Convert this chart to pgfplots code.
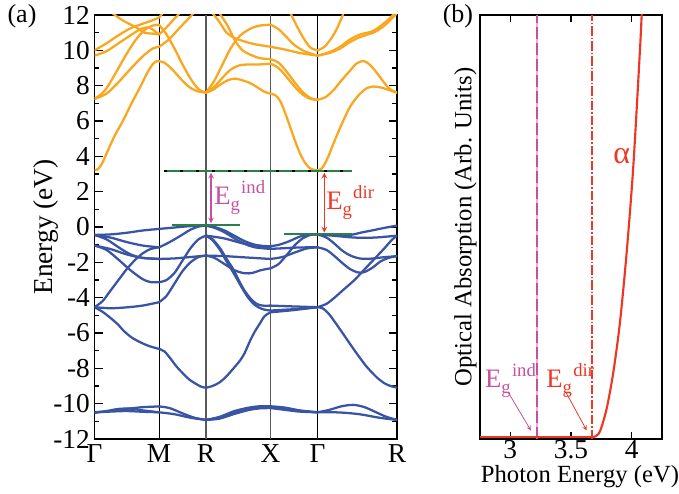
\documentclass[border=0pt]{standalone}
\usepackage{pgfplots}
\pgfplotsset{compat=1.18}
\usepackage{fontspec}
\setmainfont{Liberation Serif}
\definecolor{cband}{RGB}{250,166,30}
\definecolor{vband}{RGB}{58,84,164}
\definecolor{gline}{RGB}{40,130,70}
\definecolor{mag}{RGB}{200,80,160}
\definecolor{rd}{RGB}{238,55,35}
\pgfplotsset{
  cb/.style={cband, line width=1.7pt, smooth, tension=0.5, line join=round, line cap=round},
  vb/.style={vband, line width=1.7pt, smooth, tension=0.5, line join=round, line cap=round},
}
\tikzset{egl/.style={font=\fontsize{20}{20}\selectfont, inner sep=0pt}}
\newcommand{\Eg}[1]{E{\fontsize{14}{14}\selectfont\raisebox{-4.5pt}{g}\hspace{1pt}\raisebox{8pt}{#1}}}
\begin{document}
\begin{tikzpicture}
\useasboundingbox (-70.9pt,-41.25pt) rectangle (438.4pt,329.25pt);
\begin{axis}[
  at={(0pt,0pt)}, anchor=south west,
  scale only axis, width=226.9pt, height=318pt,
  xmin=0, xmax=302.5, ymin=-12, ymax=12,
  xtick={0,64.5,111.5,176,223,302.5},
  xticklabels={Γ,M,R,X,Γ,R},
  xtick style={draw=none},
  ytick={-12,-10,...,12}, minor y tick num=1,
  tick align=inside, ytick pos=both,
  major tick length=6pt, minor tick length=3.5pt,
  axis line style={line width=0.9pt},
  every tick/.style={black, line width=0.9pt},
  /pgf/number format/assume math mode=true,
  font=\fontsize{20.5}{23}\selectfont,
  xticklabel style={yshift=-1pt},
  ylabel={Energy (eV)},
  ylabel style={yshift=-11pt},
  clip=true,
]
% high-symmetry lines
\addplot[black, line width=0.6pt] coordinates {(64.5,-12) (64.5,12)};
\addplot[black!65, line width=0.9pt] coordinates {(111.5,-12) (111.5,12)};
\addplot[black!65, line width=0.9pt] coordinates {(176,-12) (176,12)};
\addplot[black, line width=0.6pt] coordinates {(223,-12) (223,12)};
% conduction bands, G-M
\addplot[cb] coordinates {(0,3.2) (4,3.3) (8,3.65) (12,4.15) (20,5.15) (28.8,6.05) (37,7.0) (45.5,7.9) (52,8.65) (58,9.2) (62,9.38) (64.5,9.38)};
\addplot[cb] coordinates {(0,7.25) (12,7.55) (24,8.2) (36,8.95) (48,9.65) (58,10.1) (64.5,10.2)};
\addplot[cb] coordinates {(0,7.25) (10,7.7) (20,8.6) (30,9.6) (40,10.5) (50,11.15) (58,11.4) (64.5,11.45)};
\addplot[cb] coordinates {(0,9.7) (12,9.95) (24,10.4) (36,10.85) (46,11.2) (54,11.3) (60,11.1) (64.5,10.9)};
\addplot[cb] coordinates {(0,10.0) (12,10.4) (24,10.85) (36,11.25) (48,11.5) (58,11.7) (64.5,11.85)};
\addplot[cb] coordinates {(18,12.1) (28,11.7) (40,11.35) (50,11.0) (58,10.95) (64.5,10.9)};
% M-R
\addplot[cb] coordinates {(64.5,9.38) (70,9.3) (78,8.9) (86,8.4) (94,7.95) (102,7.7) (111.5,7.6)};
\addplot[cb] coordinates {(64.5,11.45) (72,10.9) (80,10.1) (88,9.2) (96,8.4) (104,7.8) (111.5,7.6)};
\addplot[cb] coordinates {(64.5,10.2) (74,10.6) (84,11.2) (94,11.8) (99,12.1)};
\addplot[cb] coordinates {(64.5,10.9) (72,11.3) (80,11.8) (85,12.1)};
\addplot[cb] coordinates {(64.5,11.85) (68,12.1)};
% R-X
\addplot[cb] coordinates {(111.5,7.6) (118,7.75) (125.5,8.05) (133,8.3) (140.5,8.4) (148,8.3) (155.5,8.15) (163,7.9) (170,7.65) (176,7.55)};
\addplot[cb] coordinates {(111.5,7.6) (120,7.95) (128,8.45) (136,8.9) (145,9.15) (155,9.2) (165,9.2) (176,9.25)};
\addplot[cb] coordinates {(111.5,7.6) (120,8.3) (128,9.2) (136,10.1) (145,10.8) (155,11.2) (165,11.4) (176,11.45)};
\addplot[cb] coordinates {(118,12.1) (125,11.6) (132,11.0) (140,10.7) (150,10.5) (160,10.35) (176,10.2)};
\addplot[cb] coordinates {(125,12.1) (133,11.4) (140,10.6) (148,10.0) (158,9.7) (166,9.55) (176,9.5)};
% X-G
\addplot[cb] coordinates {(176,7.55) (181,7.45) (186,7.1) (191,6.4) (196,5.6) (201,4.8) (206,4.1) (211,3.6) (216,3.3) (223,3.2)};
\addplot[cb] coordinates {(176,9.25) (184,9.0) (192,8.5) (200,7.95) (208,7.5) (216,7.25) (223,7.2)};
\addplot[cb] coordinates {(176,9.5) (184,9.3) (192,8.8) (200,8.2) (208,7.65) (216,7.3) (223,7.2)};
\addplot[cb] coordinates {(176,10.2) (190,10.05) (205,9.85) (223,9.7)};
\addplot[cb] coordinates {(176,11.45) (184,11.2) (192,10.75) (200,10.3) (210,9.95) (223,9.7)};
\addplot[cb] coordinates {(196,12.1) (203,11.3) (210,10.6) (216,10.15) (223,10.0)};
% G-R
\addplot[cb] coordinates {(223,3.2) (227,3.3) (231,3.65) (235,4.15) (238.8,4.7) (247,5.8) (255.5,6.8) (264,7.45) (272,7.85) (279,7.95) (286,7.9) (292,7.8) (297,7.7) (302.5,7.6)};
\addplot[cb] coordinates {(223,7.2) (231,7.35) (239,7.75) (247,8.3) (255.5,8.85) (262,9.25) (268.8,9.4) (275,9.2) (282,8.75) (292,8.0) (297,7.75) (302.5,7.6)};
\addplot[cb] coordinates {(223,9.7) (235,9.85) (245.5,10.1) (255,10.45) (265.5,10.75) (278.8,11.0) (285,11.2) (292,11.5) (298,11.85) (302.5,12.1)};
\addplot[cb] coordinates {(223,9.7) (235,9.9) (245.5,10.2) (255,10.6) (265.5,10.9) (278.8,11.1) (292,11.65) (300,12.1)};
\addplot[cb] coordinates {(223,10.0) (230,10.2) (237,10.7) (243,11.3) (249,12.1)};
% valence bands, G-M
\addplot[vb] coordinates {(0,-0.45) (16,-0.42) (32,-0.33) (48,-0.2) (64.5,-0.11)};
\addplot[vb] coordinates {(0,-0.45) (16,-0.6) (32,-0.85) (48,-1.05) (64.5,-1.15)};
\addplot[vb] coordinates {(0,-0.45) (12,-0.7) (24,-1.15) (36,-1.55) (48,-1.75) (64.5,-1.81)};
\addplot[vb] coordinates {(0,-1.05) (16,-1.25) (32,-1.55) (48,-1.75) (64.5,-1.8)};
\addplot[vb] coordinates {(0,-1.05) (12,-1.3) (24,-1.85) (36,-2.45) (48,-2.95) (56,-3.12) (64.5,-3.13)};
\addplot[vb] coordinates {(0,-4.54) (8,-4.2) (16,-3.6) (24,-3.0) (32,-2.4) (40,-1.9) (48,-1.5) (56,-1.25) (64.5,-1.15)};
\addplot[vb] coordinates {(0,-4.54) (16,-4.6) (32,-4.55) (48,-4.45) (64.5,-4.26)};
\addplot[vb] coordinates {(0,-4.54) (8,-4.8) (16,-5.15) (24,-5.55) (28.8,-5.86) (37,-6.25) (45.5,-6.52) (55,-6.75) (64.5,-6.9)};
% M-R
\addplot[vb] coordinates {(64.5,-0.11) (80,-0.03) (96,0.05) (111.5,0.08)};
\addplot[vb] coordinates {(64.5,-1.15) (72,-0.95) (80,-0.7) (88.8,-0.4) (96,-0.15) (104,0.02) (111.5,0.08)};
\addplot[vb] coordinates {(64.5,-3.13) (72,-3.0) (80,-2.6) (88,-1.9) (96,-1.2) (104,-0.7) (111.5,-0.49)};
\addplot[vb] coordinates {(64.5,-1.81) (80,-1.78) (96,-1.7) (111.5,-1.62)};
\addplot[vb] coordinates {(64.5,-4.26) (72,-3.9) (80,-3.2) (88,-2.5) (96,-2.0) (104,-1.7) (111.5,-1.62)};
\addplot[vb] coordinates {(64.5,-6.9) (70,-7.05) (76,-7.45) (82,-7.9) (88.8,-8.31) (95,-8.65) (102,-8.9) (107,-9.05) (111.5,-9.1)};
% R-X
\addplot[vb] coordinates {(111.5,0.08) (120,0.0) (130,-0.2) (140,-0.5) (150,-0.8) (160,-1.0) (168,-1.07) (176,-1.09)};
\addplot[vb] coordinates {(111.5,0.08) (120,-0.05) (130,-0.3) (140,-0.65) (150,-0.95) (160,-1.15) (176,-1.24)};
\addplot[vb] coordinates {(111.5,-0.49) (130,-0.65) (150,-0.95) (176,-1.15)};
\addplot[vb] coordinates {(111.5,-0.49) (118,-0.7) (125.5,-1.2) (132,-1.8) (138.8,-2.4) (145,-3.1) (150,-3.6) (156,-4.05) (162,-4.35) (168,-4.45) (176,-4.45)};
\addplot[vb] coordinates {(111.5,-0.49) (118,-0.75) (125.5,-1.3) (132,-1.95) (140,-2.7) (147,-3.4) (153,-3.95) (160,-4.4) (168,-4.65) (176,-4.73)};
\addplot[vb] coordinates {(111.5,-1.62) (130,-1.65) (150,-1.72) (176,-1.81)};
\addplot[vb] coordinates {(111.5,-1.62) (120,-1.75) (130,-2.1) (140,-2.45) (150,-2.62) (158,-2.6) (166,-2.45) (176,-2.34)};
\addplot[vb] coordinates {(111.5,-9.1) (118,-9.0) (125,-8.8) (132,-8.45) (139,-8.0) (145.5,-7.56) (150,-7.15) (155.5,-6.45) (160,-5.95) (165.5,-5.45) (170,-5.05) (176,-4.83)};
% X-G
\addplot[vb] coordinates {(176,-1.09) (185,-1.0) (195,-0.8) (205,-0.55) (215,-0.43) (223,-0.42)};
\addplot[vb] coordinates {(176,-1.24) (190,-1.2) (205,-1.16) (223,-1.15)};
\addplot[vb] coordinates {(176,-1.81) (188,-1.7) (200,-1.45) (212,-1.22) (223,-1.15)};
\addplot[vb] coordinates {(176,-2.34) (184,-2.1) (192,-1.6) (200,-1.05) (208,-0.65) (216,-0.45) (223,-0.42)};
\addplot[vb] coordinates {(176,-4.45) (200,-4.5) (223,-4.54)};
\addplot[vb] coordinates {(176,-4.73) (200,-4.65) (223,-4.54)};
\addplot[vb] coordinates {(176,-4.83) (200,-4.7) (223,-4.54)};
% G-R
\addplot[vb] coordinates {(223,-0.42) (240,-0.45) (255.5,-0.45) (268,-0.3) (278.8,-0.18) (290,-0.05) (302.5,0.08)};
\addplot[vb] coordinates {(223,-0.42) (240,-0.5) (260,-0.6) (280,-0.6) (302.5,-0.49)};
\addplot[vb] coordinates {(223,-0.42) (232,-0.6) (240,-0.95) (248,-1.35) (256,-1.62) (265,-1.78) (275,-1.8) (288,-1.72) (302.5,-1.65)};
\addplot[vb] coordinates {(223,-1.15) (232,-1.3) (240,-1.65) (248,-2.05) (256,-2.4) (264,-2.58) (270,-2.55) (278,-2.3) (286,-1.95) (294,-1.75) (302.5,-1.65)};
\addplot[vb] coordinates {(223,-4.54) (232,-4.35) (240,-4.0) (250,-3.5) (260,-3.0) (270,-2.4) (280,-1.8) (290,-1.2) (297,-0.75) (302.5,-0.49)};
\addplot[vb] coordinates {(223,-4.54) (228,-4.6) (234,-4.9) (240,-5.35) (248,-6.0) (255.5,-6.62) (264,-7.3) (272,-7.9) (282,-8.5) (290,-8.85) (296,-9.0) (302.5,-9.1)};
% low-lying bands
\addplot[vb] coordinates {(0,-10.49) (16,-10.42) (32,-10.3) (48,-10.2) (64.5,-10.16)};
\addplot[vb] coordinates {(0,-10.49) (16,-10.45) (32,-10.42) (48,-10.46) (64.5,-10.49)};
\addplot[vb] coordinates {(0,-10.52) (12,-10.42) (24,-10.3) (36,-10.28) (48,-10.38) (64.5,-10.49)};
\addplot[vb] coordinates {(64.5,-10.16) (75,-10.25) (88,-10.55) (100,-10.8) (111.5,-10.92)};
\addplot[vb] coordinates {(64.5,-10.49) (80,-10.6) (96,-10.8) (111.5,-10.92)};
\addplot[vb] coordinates {(111.5,-10.92) (125,-10.8) (140,-10.5) (155,-10.3) (165,-10.22) (176,-10.2)};
\addplot[vb] coordinates {(111.5,-10.92) (125,-10.75) (140,-10.42) (155,-10.22) (165,-10.15) (176,-10.15)};
\addplot[vb] coordinates {(111.5,-10.92) (125,-10.85) (140,-10.58) (155,-10.35) (165,-10.27) (176,-10.25)};
\addplot[vb] coordinates {(176,-10.2) (190,-10.3) (205,-10.42) (223,-10.49)};
\addplot[vb] coordinates {(176,-10.15) (190,-10.22) (205,-10.38) (223,-10.49)};
\addplot[vb] coordinates {(176,-10.25) (190,-10.35) (205,-10.45) (223,-10.49)};
\addplot[vb] coordinates {(223,-10.49) (235,-10.35) (247,-10.15) (258.8,-10.07) (270,-10.2) (282,-10.5) (292,-10.75) (302.5,-10.92)};
\addplot[vb] coordinates {(223,-10.49) (245,-10.5) (265,-10.6) (285,-10.8) (302.5,-10.92)};
% band edge lines
\addplot[gline, line width=1pt] coordinates {(69.8,3.17) (257.5,3.17)};
\addplot[gline, line width=1.2pt] coordinates {(77,0.1) (145.5,0.1)};
\addplot[gline, line width=1.2pt] coordinates {(189,-0.41) (257,-0.41)};
\addplot[black, line width=0.8pt, dash pattern=on 2pt off 10pt] coordinates {(69.8,3.17) (257.5,3.17)};
% gap arrows
\draw[mag, line width=0.9pt, <->, >=stealth] (axis cs:116.5,0.2) -- (axis cs:116.5,3.07);
\draw[rd, line width=0.9pt, <->, >=stealth] (axis cs:229.8,-0.31) -- (axis cs:229.8,3.07);
\node[egl, mag, anchor=base west] at (axis cs:119.5,1.3) {\Eg{ind}};
\node[egl, rd, anchor=base west] at (axis cs:231.5,1.0) {\Eg{dir}};
\end{axis}
\node[font=\fontsize{19.5}{22}\selectfont] at (-54.4pt,317.25pt) {(a)};
\node[font=\fontsize{19.5}{22}\selectfont] at (272.6pt,317.25pt) {(b)};
\begin{axis}[
  at={(289.1pt,0pt)}, anchor=south west,
  scale only axis, width=136.5pt, height=318pt,
  xmin=2.75, xmax=4.25, ymin=0, ymax=1,
  xtick={3,3.5,4}, ytick=\empty,
  tick align=inside, major tick length=5pt,
  axis line style={line width=0.9pt},
  every tick/.style={black, line width=0.9pt},
  /pgf/number format/assume math mode=true,
  font=\fontsize{20.5}{23}\selectfont,
  xticklabel style={inner sep=1pt, yshift=0pt},
  xlabel={Photon Energy (eV)},
  ylabel={Optical Absorption (Arb. Units)},
  xlabel style={font=\fontsize{18.5}{21}\selectfont, inner sep=0.5pt, at={(axis description cs:0.55,0)}, anchor=center, yshift=-28pt},
  ylabel style={font=\fontsize{18.5}{21}\selectfont, yshift=-1pt},
  clip=true,
]
\addplot[mag!45, line width=2pt] coordinates {(3.22,0) (3.22,1)};
\addplot[mag, line width=1.6pt, dash pattern=on 9pt off 3pt] coordinates {(3.22,0) (3.22,1)};
\addplot[rd, line width=1.5pt, dash pattern=on 7pt off 1.5pt on 1.2pt off 1.5pt] coordinates {(3.675,0) (3.675,1)};
\addplot[rd, line width=1.6pt] coordinates {(2.75,0.004) (3.676,0.004)};
\addplot[rd, line width=1.6pt, smooth, tension=0.5] coordinates {(3.676,0.004) (3.70,0.006) (3.739,0.018) (3.794,0.071) (3.849,0.157) (3.904,0.275) (3.959,0.439) (4.014,0.643) (4.069,0.918) (4.083,1.0) (4.1,1.1)};
\draw[mag, line width=0.6pt, ->, >=stealth] (axis cs:2.983,0.11) -- (axis cs:3.17,0.02);
\draw[rd, line width=0.6pt, ->, >=stealth] (axis cs:3.459,0.11) -- (axis cs:3.63,0.02);
\node[egl, mag, anchor=base west] at (axis cs:2.79,0.122) {\Eg{ind}};
\node[egl, rd, anchor=base west] at (axis cs:3.295,0.122) {\Eg{dir}};
\node[rd, font=\fontsize{24}{24}\selectfont] at (axis cs:3.918,0.667) {α};
\end{axis}
\end{tikzpicture}
\end{document}
